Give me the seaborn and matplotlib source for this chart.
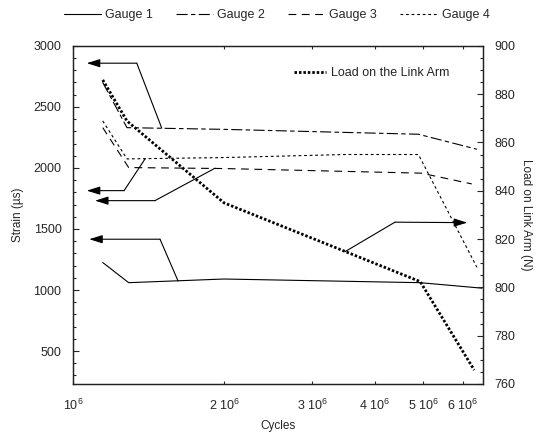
import numpy as np
import pandas as pd
import matplotlib
matplotlib.use('Agg')
import matplotlib.pyplot as plt
from matplotlib.ticker import FixedLocator, MultipleLocator, NullLocator
import seaborn as sns

# Values
g1_cycles = [1.145e6, 1.29e6, 2.0e6, 4.93e6, 6.55e6]
g1_strain = [1225, 1060, 1090, 1060, 1015]

g2_cycles = [1.145e6, 1.28e6, 2.0e6, 4.89e6, 6.4e6]
g2_strain = [2700, 2330, 2316, 2276, 2153]

g3_cycles = [1.145e6, 1.29e6, 2.0e6, 4.96e6, 6.25e6]
g3_strain = [2330, 2003, 1995, 1957, 1869]

g4_cycles = [1.145e6, 1.28e6, 2.0e6, 3.5e6, 4.89e6, 6.4e6]
g4_strain = [2385, 2074, 2085, 2110, 2110, 1186]

load_cycles = [1.145e6, 1.28e6, 2.0e6, 4.93e6, 6.32e6]
load_n = [885.9, 868.9, 835.0, 802.4, 765.8]

gauge_names = ['Gauge 1', 'Gauge 2', 'Gauge 3', 'Gauge 4']
xtick_vals = [1e6, 2e6, 3e6, 4e6, 5e6, 6e6]
xtick_labels = ['10$^6$', '2 10$^6$', '3 10$^6$', '4 10$^6$', '5 10$^6$', '6 10$^6$']

# callout arrows: (line start on curve, elbow, arrow tip)
left_callouts = [
    [(1.502e6, 2326), (1.339e6, 2858), (1.064e6, 2858)],   # gauge 2
    [(1.391e6, 2074), (1.263e6, 1814), (1.064e6, 1814)],   # gauge 4
    [(1.919e6, 1998), (1.456e6, 1732), (1.105e6, 1732)],   # gauge 3
    [(1.619e6, 1074), (1.490e6, 1416), (1.076e6, 1416)],   # gauge 1
]
right_callout = [(3.49e6, 814.8), (4.39e6, 827.0), (6.12e6, 826.8)]

sns.set_style('ticks')
plt.rcParams['font.family'] = ['Liberation Sans', 'DejaVu Sans']
plt.rcParams['mathtext.default'] = 'regular'
plt.rcParams['font.size'] = 9

fig = plt.figure(figsize=(5.39, 4.38), dpi=100)
ax = fig.add_axes([0.136, 0.1233, 0.76, 0.772])
ax.set_xscale('log')
ax2 = ax.twinx()

gauges = [(g1_cycles, g1_strain), (g2_cycles, g2_strain), (g3_cycles, g3_strain), (g4_cycles, g4_strain)]
styles = ['-', (0, (10, 3, 4, 3)), (0, (7, 5)), (0, (2.5, 2.5))]
for (cx, cy), ls in zip(gauges, styles):
    sns.lineplot(x=cx, y=cy, ax=ax, color='black', lw=0.8, linestyle=ls, sort=False)

sns.lineplot(x=load_cycles, y=load_n, ax=ax2, color='black', lw=2.0,
             linestyle=(0, (0.9, 0.7)), sort=False)

# callouts
for start, elbow, tip in left_callouts:
    ax.plot([start[0], elbow[0]], [start[1], elbow[1]], color='black', lw=0.8)
    ax.annotate('', xy=tip, xytext=elbow,
                arrowprops=dict(arrowstyle='-|>,head_length=0.8,head_width=0.25',
                                color='black', lw=0.8, mutation_scale=10, shrinkA=0, shrinkB=0))
start, elbow, tip = right_callout
ax2.plot([start[0], elbow[0]], [start[1], elbow[1]], color='black', lw=0.8)
ax2.annotate('', xy=tip, xytext=elbow,
             arrowprops=dict(arrowstyle='-|>,head_length=0.8,head_width=0.25',
                             color='black', lw=0.8, mutation_scale=10, shrinkA=0, shrinkB=0))

# axes
ax.set_xlim(1e6, 6.58e6)
ax.set_ylim(230, 3000)
ax2.set_ylim(760, 900)
ax.xaxis.set_major_locator(FixedLocator(xtick_vals))
ax.xaxis.set_minor_locator(NullLocator())
ax.set_xticklabels(xtick_labels)
ax.yaxis.set_major_locator(MultipleLocator(500))
ax.yaxis.set_minor_locator(MultipleLocator(100))
ax2.yaxis.set_major_locator(MultipleLocator(20))
ax2.yaxis.set_minor_locator(MultipleLocator(5))

ax.tick_params(axis='y', which='major', direction='in', length=4.3, width=0.8, pad=8.5, labelsize=9)
ax.tick_params(axis='y', which='minor', direction='in', length=2.4, width=0.8)
ax.tick_params(axis='x', which='major', direction='in', length=2.2, width=0.8, pad=10, top=True, labelsize=9)
ax2.tick_params(axis='y', which='major', direction='in', length=4.3, width=0.8, pad=8, labelsize=9)
ax2.tick_params(axis='y', which='minor', direction='in', length=2.4, width=0.8)

for a in (ax, ax2):
    for sp in a.spines.values():
        sp.set_visible(True)
        sp.set_color('#222222')
        sp.set_linewidth(0.9)

ax.set_xlabel('Cycles', fontsize=8.5, labelpad=5)
ax.set_ylabel('Strain (µs)', fontsize=8.5, labelpad=7)
ax2.set_ylabel('Load on Link Arm (N)', fontsize=8.5, rotation=270, labelpad=12)

# legends
g_handles = ax.lines[:4]
fig.legend(g_handles, gauge_names, loc='center', bbox_to_anchor=(0.513, 0.966), ncol=4,
           frameon=False, handlelength=3.0, columnspacing=1.85, handletextpad=0.3, fontsize=9)
ax2.legend([ax2.lines[0]], ['Load on the Link Arm'], loc='center left',
           bbox_to_anchor=(0.545, 0.833), bbox_transform=fig.transFigure,
           frameon=False, handlelength=2.6, handletextpad=0.4, borderpad=0, borderaxespad=0, fontsize=9)

fig.savefig('out.png', dpi=100)
